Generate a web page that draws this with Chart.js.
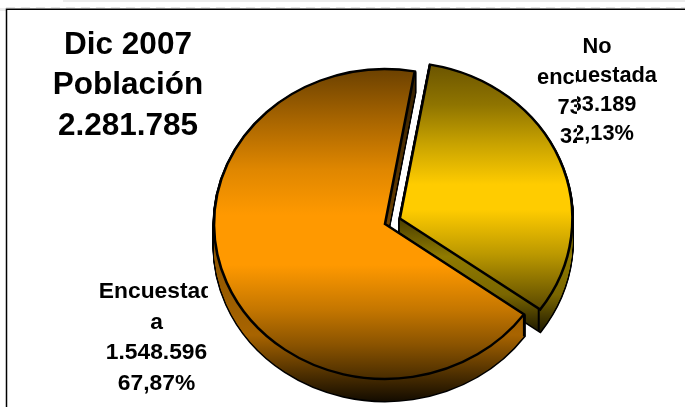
<!DOCTYPE html>
<html><head><meta charset="utf-8">
<script src="https://cdn.jsdelivr.net/npm/chart.js@4"></script>
<style>html,body{margin:0;padding:0;background:#fff;overflow:hidden}canvas{display:block}</style>
</head><body><div style="width:685px;height:407px"><canvas id="c" width="685" height="407"></canvas></div>
<script>
const categories = ['No encuestada', 'Encuestada'];
const values = [733189, 1548596];
const titleLines = ['Dic 2007', 'Población', '2.281.785'];
const noLines = ['No', 'encuestada', '733.189', '32,13%'];
const siLines = ['Encuestad', 'a', '1.548.596', '67,87%'];
const explode = [64, 0];

const CY = 224, SQUASH = 0.906, DEPTH = 22;
const userY = (Y, dy) => CY + (Y - dy - CY) / SQUASH;
function grad(ctx, stops, dy) {
  const ys = stops.map(s => s[0]);
  const a = ys[0], b = ys[ys.length - 1];
  const g = ctx.createLinearGradient(0, userY(a, dy), 0, userY(b, dy));
  stops.forEach(s => g.addColorStop((s[0] - a) / (b - a), s[1]));
  return g;
}
const topStops = [
  [[64,'#665000'],[110,'#8f7400'],[150,'#c9a300'],[190,'#ffcc00'],[215,'#ffcc00'],[260,'#bb9800'],[312,'#5e4c00']],
  [[68,'#6a4000'],[120,'#a86500'],[170,'#e08700'],[215,'#ff9900'],[265,'#ff9900'],[310,'#c47600'],[345,'#8a5300'],[378,'#4a2d00']]
];
const sideStops = [
  [[215,'#3a3000'],[262,'#8f7a00'],[300,'#7a6600'],[338,'#1d1800']],
  [[90,'#3a2300'],[200,'#5e3900'],[245,'#8a5300'],[335,'#a86400'],[375,'#4c2e00'],[402,'#120b00']]
];

const squash = (ctx, cx, dy) => {
  ctx.translate(0, dy);
  ctx.translate(cx, CY); ctx.scale(1, SQUASH); ctx.translate(-cx, -CY);
};

const pie3d = {
  id: 'pie3d',
  beforeDraw(chart) {
    const c = chart.ctx;
    c.save();
    c.fillStyle = '#ececec';
    c.fillRect(63, 0, 622, 2);
    c.fillRect(0, 8, 6, 3);
    c.strokeStyle = '#e4e4e4'; c.lineWidth = 1; c.setLineDash([9, 6]);
    c.beginPath(); c.moveTo(6, 7.5); c.lineTo(685, 7.5); c.stroke();
    c.setLineDash([]);
    c.strokeStyle = '#000'; c.lineWidth = 1.5;
    c.beginPath(); c.moveTo(6.5, 407); c.lineTo(6.5, 9.25); c.lineTo(685, 9.25); c.stroke();
    c.restore();
  },
  beforeDatasetsDraw(chart) {
    const c = chart.ctx, arcs = chart.getDatasetMeta(0).data;
    const cx = arcs[1].x;
    [0, 1].forEach(i => {
      const arc = arcs[i], saved = arc.options;
      arc.options = Object.assign({}, saved, {backgroundColor:'#000', borderColor:'#000', borderWidth:3.2, borderJoinStyle:'miter'});
      for (let dy = DEPTH; dy > 0; dy -= 1) {
        c.save(); squash(c, cx, dy); arc.draw(c); c.restore();
      }
      for (let dy = DEPTH; dy > 0; dy -= 0.5) {
        arc.options = Object.assign({}, saved, {backgroundColor: grad(c, sideStops[i], dy), borderWidth:0});
        c.save(); squash(c, cx, dy); arc.draw(c); c.restore();
      }
      arc.options = saved;
      const a = i === 0 ? arc.endAngle : arc.startAngle;
      const off = (saved.offset || 0) / 4, mid = (arc.startAngle + arc.endAngle) / 2;
      const px = arc.x + Math.cos(mid) * off + Math.cos(a) * arc.outerRadius;
      const py = CY + (arc.y - CY + Math.sin(mid) * off + Math.sin(a) * arc.outerRadius) * SQUASH;
      c.save(); c.strokeStyle = '#000'; c.lineWidth = 2;
      c.beginPath(); c.moveTo(px, py); c.lineTo(px, py + DEPTH); c.stroke(); c.restore();
    });
    c.save();
    squash(c, cx, 0);
  },
  afterDatasetsDraw(chart) {
    chart.ctx.restore();
    const c = chart.ctx;
    c.save();
    c.fillStyle = '#000'; c.textAlign = 'center'; c.textBaseline = 'alphabetic';
    c.font = 'bold 31.5px "Liberation Sans"';
    titleLines.forEach((t, i) => c.fillText(t, 128, 54 + i * 40.3));
    c.font = 'bold 21.8px "Liberation Sans"';
    const seam = 577;
    c.save(); c.beginPath(); c.rect(seam, 0, 108, 407); c.clip();
    noLines.forEach((t, i) => c.fillText(t, 597, 52.5 + i * 29.3));
    c.restore();
    c.save(); c.beginPath(); c.rect(500, 0, seam - 500, 407); c.clip();
    noLines.forEach((t, i) => c.fillText(t, 597, 55 + i * 29.3));
    c.restore();
    c.font = 'bold 22.8px "Liberation Sans"';
    c.save(); c.beginPath(); c.rect(8, 200, 200, 207); c.clip();
    siLines.forEach((t, i) => c.fillText(t, 156.5, 298 + i * 30.7));
    c.restore();
    c.restore();
  }
};

new Chart(document.getElementById('c'), {
  type: 'pie',
  data: {
    labels: categories,
    datasets: [{
      data: values,
      offset: explode,
      clip: false,
      borderColor: '#000',
      borderWidth: 2.6,
      borderJoinStyle: 'miter',
      backgroundColor: ctx => grad(ctx.chart.ctx, topStops[ctx.dataIndex] || topStops[0], 0)
    }]
  },
  options: {
    responsive: false,
    animation: false,
    events: [],
    rotation: 10,
    radius: 171,
    layout: {padding: {left: 205, right: 120, top: 44, bottom: 3}},
    plugins: {legend: {display: false}, tooltip: {enabled: false}, title: {display: false}}
  },
  plugins: [pie3d]
});
</script></body></html>
